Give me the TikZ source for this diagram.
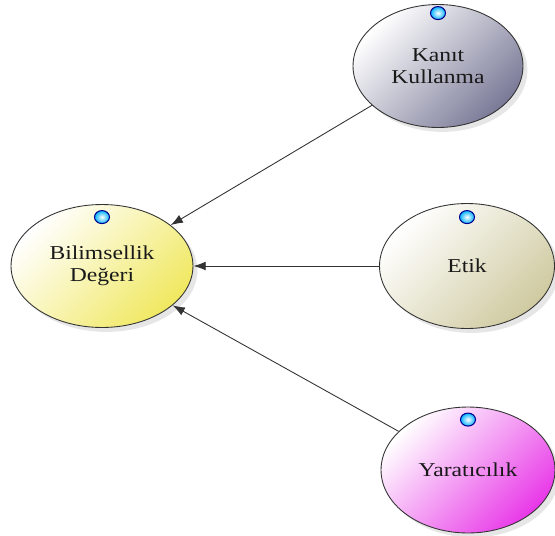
\documentclass[tikz,border=0pt]{standalone}
\usepackage{fontspec}
\setmainfont{Liberation Serif}[FakeStretch=1.2]
\usetikzlibrary{shapes.geometric,shadows,arrows.meta}
\definecolor{kanitdark}{HTML}{7A7A98}
\definecolor{bilimdark}{HTML}{F0E860}
\definecolor{etikdark}{HTML}{CFCAA0}
\definecolor{yaratdark}{HTML}{E838E8}
\begin{document}
\begin{tikzpicture}[x=0.02cm,y=-0.02cm,
  every node/.style={font=\fontsize{11.2}{12.5}\selectfont, text=black!90, align=center},
  value/.style={ellipse, draw=black!80, line width=0.5pt,
    drop shadow={opacity=0.2, shadow xshift=2.5pt, shadow yshift=-2.5pt},
    top color=white, bottom color=#1, shading angle=45},
  knob/.style={ellipse, draw=blue!55!black, line width=0.6pt, inner sep=0pt,
    minimum width=0.3cm, minimum height=0.26cm, inner color=white, outer color=cyan!70!blue},
  link/.style={-{Latex[length=7pt,width=5pt]}, black!80, line width=0.5pt}]
\useasboundingbox (0,0) rectangle (555,535);
\node[value=kanitdark, minimum width=3.4cm, minimum height=2.46cm] (kanit) at (438,66) {Kanıt\\Kullanma};
\node[value=bilimdark, minimum width=3.64cm, minimum height=2.46cm] (bilim) at (102,266) {Bilimsellik\\Değeri};
\node[value=etikdark, minimum width=3.5cm, minimum height=2.5cm] (etik) at (467,266) {Etik};
\node[value=yaratdark, minimum width=3.48cm, minimum height=2.52cm] (yarat) at (468,470) {Yaratıcılık};
\node[knob] (kanitknob) at ([yshift=-0.18cm]kanit.north) {};
\node[knob] (bilimknob) at ([yshift=-0.26cm]bilim.north) {};
\node[knob] (etikknob) at ([yshift=-0.28cm]etik.north) {};
\node[knob] (yaratknob) at ([yshift=-0.26cm]yarat.north) {};
\draw[link] (kanit) edge (bilim);
\draw[link] (etik) edge (bilim);
\draw[link] (yarat) edge (bilim);
\end{tikzpicture}
\end{document}
